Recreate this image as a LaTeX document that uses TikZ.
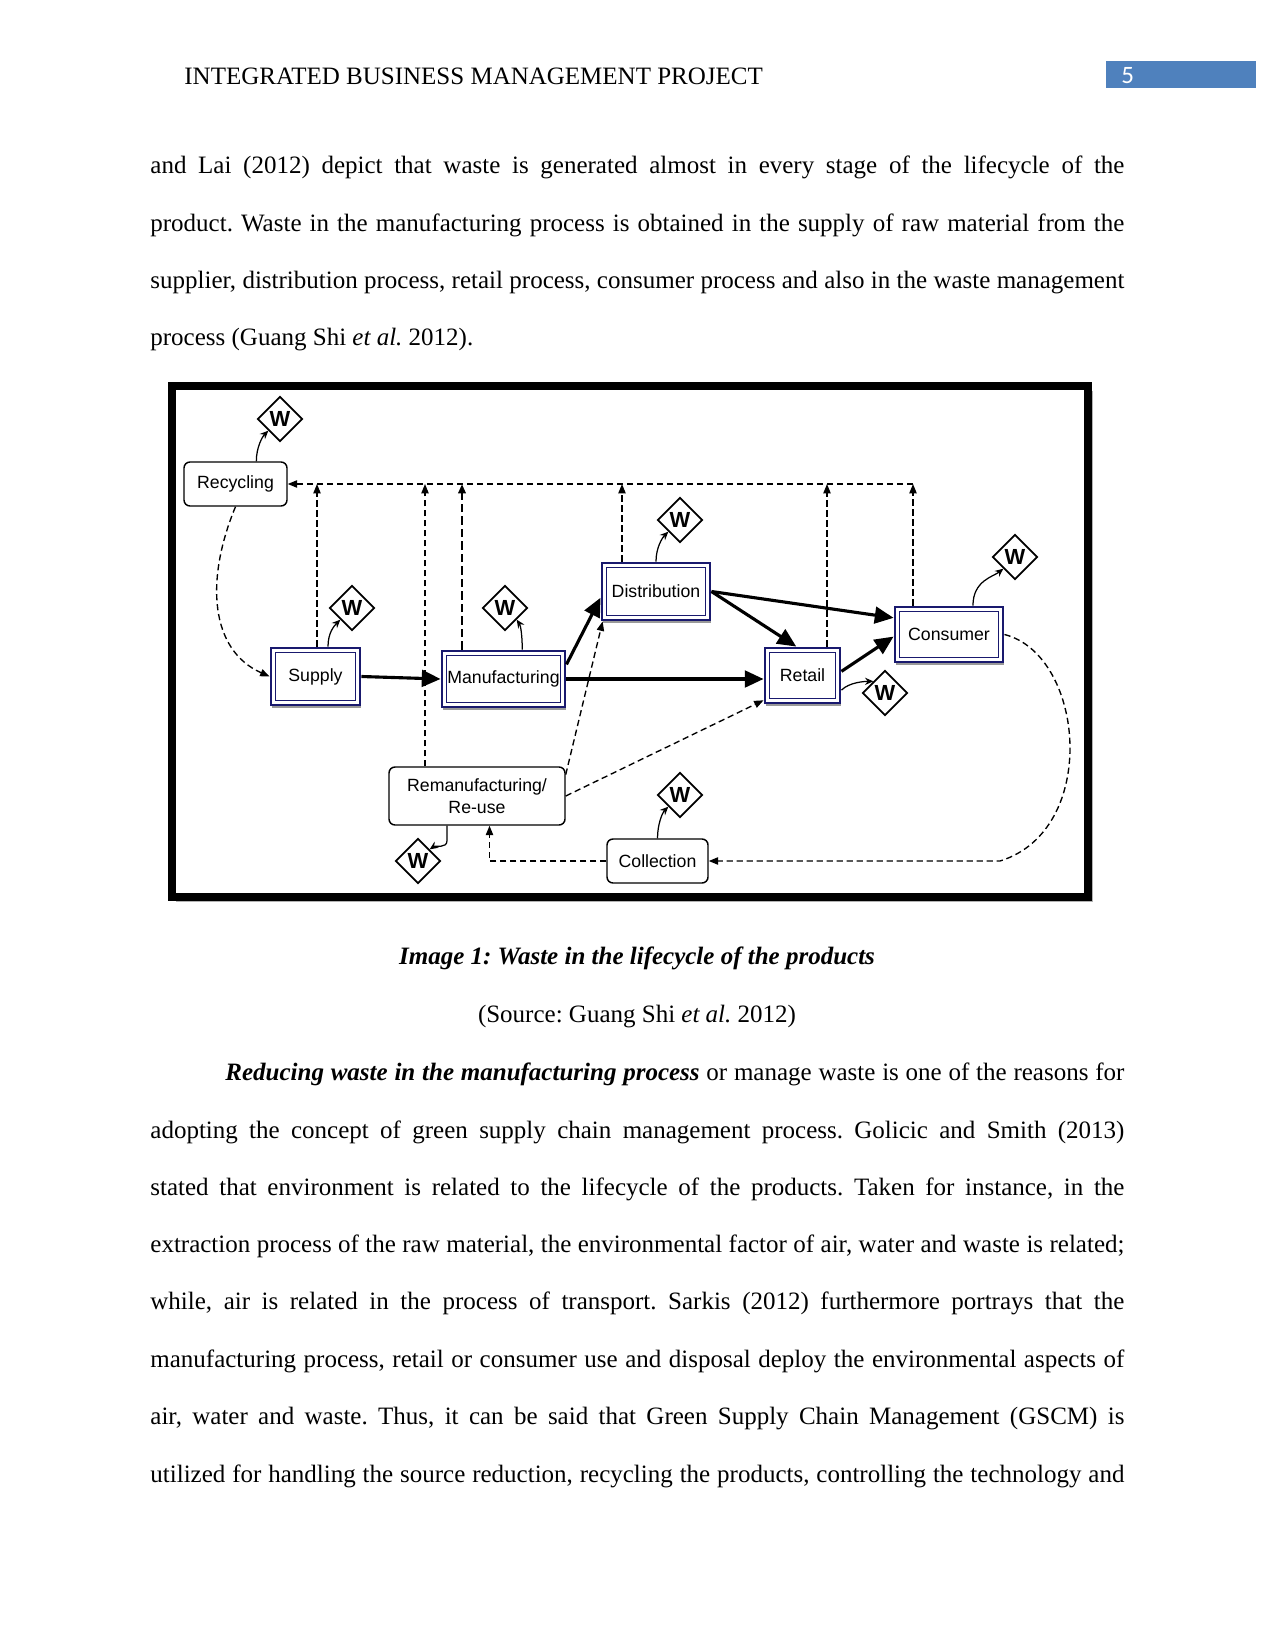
\documentclass[tikz,border=0pt]{standalone}
\usepackage{fontspec}
\setmainfont{Liberation Serif}
\newfontfamily\chartfont{Liberation Sans}
\newfontfamily\numfont{Carlito}
\usetikzlibrary
  {
    arrows.meta,              % arrow heads
    shapes.geometric,         % diamonds for the waste marks
    shadows,                  % shadow under the stage boxes
  }

\newlength\pxl
\setlength\pxl{0.48pt}        % one pixel of the page
\definecolor{stageblue}{RGB}{25,25,110}
\definecolor{headblue}{RGB}{79,129,189}

\tikzset{
  txtline/.style={anchor=base west, inner sep=0pt, font=\fontsize{12}{14}\selectfont\frenchspacing},
  midline/.style={txtline, anchor=base},
  stagebox/.style={draw=stageblue, line width=1.4pt, fill=white, inner sep=0pt,
    font=\chartfont\fontsize{8.5}{10.5}\selectfont,
    drop shadow={shadow xshift=0.6pt, shadow yshift=-1.4pt, fill=black!40, opacity=1},
    path picture={\draw[stageblue, line width=0.5pt]
      ([shift={(2.2pt,-2.2pt)}]path picture bounding box.north west) rectangle
      ([shift={(-2.2pt,2.2pt)}]path picture bounding box.south east);}},
  loopbox/.style={draw, line width=0.7pt, rounded corners=6\pxl, fill=white, inner sep=0pt,
    font=\chartfont\fontsize{8.5}{10.5}\selectfont, align=center},
  wmark/.style={diamond, draw, line width=0.8pt, fill=white, inner sep=0pt,
    minimum width=45\pxl, minimum height=45\pxl,
    font=\chartfont\bfseries\fontsize{10.5}{10.5}\selectfont},
  flow/.style={line width=1.5pt, -{Triangle[length=9pt, width=8pt]}},
  retline/.style={line width=0.65pt, dash pattern=on 3pt off 1.8pt,
    -{Triangle[length=4.5pt, width=3.5pt]}},
  wasteline/.style={line width=0.6pt, -{Stealth[length=4pt, width=3.5pt]}},
}

\begin{document}
\begin{tikzpicture}[x=0.48pt, y=-0.48pt]
    \fill[white] (0,0) rectangle (1275,1650);
    \useasboundingbox (0,0) rectangle (1275,1650);

    % running head
    \node[txtline] (head) at (184,85) {INTEGRATED BUSINESS MANAGEMENT PROJECT};
    \fill[headblue] (1106,61) rectangle (1256,88);
    \node[txtline, text=white, font=\numfont\fontsize{12}{14}\selectfont] (pnum) at (1121,84) {5};

    % text above the figure
    \node[txtline] (p1a) at (150,174) {\makebox[974\pxl][s]{and Lai (2012) depict that waste is generated almost in every stage of the lifecycle of the}};
    \node[txtline] (p1b) at (150,232) {\makebox[974\pxl][s]{product. Waste in the manufacturing process is obtained in the supply of raw material from the}};
    \node[txtline] (p1c) at (150,289) {\makebox[974\pxl][s]{supplier, distribution process, retail process, consumer process and also in the waste management}};
    \node[txtline] (p1d) at (150,346) {process (Guang Shi \textit{et al.} 2012).};

    % frame of the figure
    \fill[black!30] (176,391) rectangle (1093,902);
    \draw[line width=3.4pt, fill=white] (172,386) rectangle (1088,897);

    % stages
    \node[stagebox, minimum width=89\pxl, minimum height=57\pxl] (Supply) at (315.5,676.5) {Supply};
    \node[stagebox, minimum width=123\pxl, minimum height=56\pxl] (Manufacturing) at (503.5,679) {Manufacturing};
    \node[stagebox, minimum width=108\pxl, minimum height=57\pxl] (Distribution) at (656,591.5) {Distribution};
    \node[stagebox, minimum width=75\pxl, minimum height=55\pxl] (Retail) at (802.5,675.5) {Retail};
    \node[stagebox, minimum width=108\pxl, minimum height=55\pxl] (Consumer) at (949,634.5) {Consumer};

    \node[loopbox, minimum width=103\pxl, minimum height=44\pxl] (Recycling) at (235.5,484) {Recycling};
    \node[loopbox, minimum width=176\pxl, minimum height=58\pxl] (Remanuf) at (477,796) {Remanufacturing/\\Re-use};
    \node[loopbox, minimum width=101\pxl, minimum height=44\pxl] (Collection) at (657.5,861) {Collection};

    % waste marks
    \node[wmark] (wRec) at (280,419) {W};
    \node[wmark] (wSup) at (352,608) {W};
    \node[wmark] (wMan) at (505,608) {W};
    \node[wmark] (wDis) at (680,520) {W};
    \node[wmark] (wCon) at (1015,557) {W};
    \node[wmark] (wRet) at (885,693) {W};
    \node[wmark] (wRem) at (418,861) {W};
    \node[wmark] (wCol) at (680,795) {W};

    % forward flow
    \draw[flow] (Supply.east) -- (Manufacturing.west);
    \draw[flow] ([yshift=7pt]Manufacturing.east) -- ([yshift=-3pt]Distribution.west);
    \draw[flow] (Manufacturing.east) -- (Manufacturing.east -| Retail.west);
    \draw[flow] (Distribution.east) -- ([xshift=-3pt]Retail.north);
    \draw[flow] (Distribution.east) -- ([yshift=8pt]Consumer.west);
    \draw[flow] ([yshift=2pt]Retail.east) -- ([yshift=-1pt]Consumer.west);

    % waste from each stage
    \draw[wasteline] ([xshift=10pt]Recycling.north) .. controls +(0,-14) and +(-6,6) .. (wRec.south west);
    \draw[wasteline] ([xshift=6pt]Supply.north) .. controls +(0,-14) and +(-6,6) .. (wSup.south west);
    \draw[wasteline] ([xshift=9pt]Manufacturing.north) .. controls +(0,-14) and +(4,6) .. (wMan.south east);
    \draw[wasteline] (Distribution.north) .. controls +(0,-14) and +(-6,6) .. (wDis.south west);
    \draw[wasteline] ([xshift=11.5pt]Consumer.north) .. controls +(0,-25) and +(-10,8) .. (wCon.south west);
    \draw[wasteline] ([yshift=-7pt]Retail.east) .. controls +(8,-8) and +(-8,0) .. (wRet.north west);
    \draw[wasteline] ([xshift=-14.4pt]Remanuf.south) -- +(0,15) .. controls +(0,8) and +(6,-4) .. (wRem.north east);
    \draw[wasteline] (Collection.north) .. controls +(0,-14) and +(-6,6) .. (wCol.south west);

    % return line to recycling
    \coordinate (busC) at (913,484);
    \coordinate (busR) at (827,484);
    \coordinate (busD) at (622,484);
    \coordinate (busM) at (462,484);
    \coordinate (busU) at (425,484);
    \coordinate (busS) at (317,484);
    \draw[retline] (busC) -- (Recycling.east);
    \draw[retline] (busS |- Supply.north) -- (busS);
    \draw[retline] (busU |- Remanuf.north) -- (busU);
    \draw[retline, line width=1.3pt, dash pattern=on 4pt off 2pt] (busM |- Manufacturing.north) -- (busM);
    \draw[retline] (busD |- Distribution.north) -- (busD);
    \draw[retline] (busR |- Retail.north) -- (busR);
    \draw[retline] (busC |- Consumer.north) -- (busC);

    % other returns
    \draw[retline] (Recycling.south) .. controls (205,580) and (210,650) .. (Supply.west);
    \draw[retline] ([yshift=-4pt]Remanuf.north east) -- ([xshift=1pt]Distribution.south west);
    \draw[retline] (Remanuf.east) -- ([yshift=2pt]Retail.south west);
    \draw[retline] (Consumer.east) .. controls (1085,655) and (1100,830) .. (1000,861) -- (Collection.east);
    \draw[retline] (Collection.west) -| ([xshift=6pt]Remanuf.south);

    % caption
    \node[midline] (cap) at (637,964) {\textbf{\textit{Image 1: Waste in the lifecycle of the products}}};
    \node[midline] (src) at (637,1022) {(Source: Guang Shi \textit{et al.} 2012)};

    % text below the figure
    \node[txtline] (p2a) at (225,1080) {\makebox[899\pxl][s]{\textbf{\textit{Reducing waste in the manufacturing process}} or manage waste is one of the reasons for}};
    \node[txtline] (p2b) at (150,1138) {\makebox[974\pxl][s]{adopting the concept of green supply chain management process. Golicic and Smith (2013)}};
    \node[txtline] (p2c) at (150,1195) {\makebox[974\pxl][s]{stated that environment is related to the lifecycle of the products. Taken for instance, in the}};
    \node[txtline] (p2d) at (150,1252) {\makebox[974\pxl][s]{extraction process of the raw material, the environmental factor of air, water and waste is related;}};
    \node[txtline] (p2e) at (150,1309) {\makebox[974\pxl][s]{while, air is related in the process of transport. Sarkis (2012) furthermore portrays that the}};
    \node[txtline] (p2f) at (150,1367) {\makebox[974\pxl][s]{manufacturing process, retail or consumer use and disposal deploy the environmental aspects of}};
    \node[txtline] (p2g) at (150,1424) {\makebox[974\pxl][s]{air, water and waste. Thus, it can be said that Green Supply Chain Management (GSCM) is}};
    \node[txtline] (p2h) at (150,1482) {\makebox[974\pxl][s]{utilized for handling the source reduction, recycling the products, controlling the technology and}};
\end{tikzpicture}
\end{document}
